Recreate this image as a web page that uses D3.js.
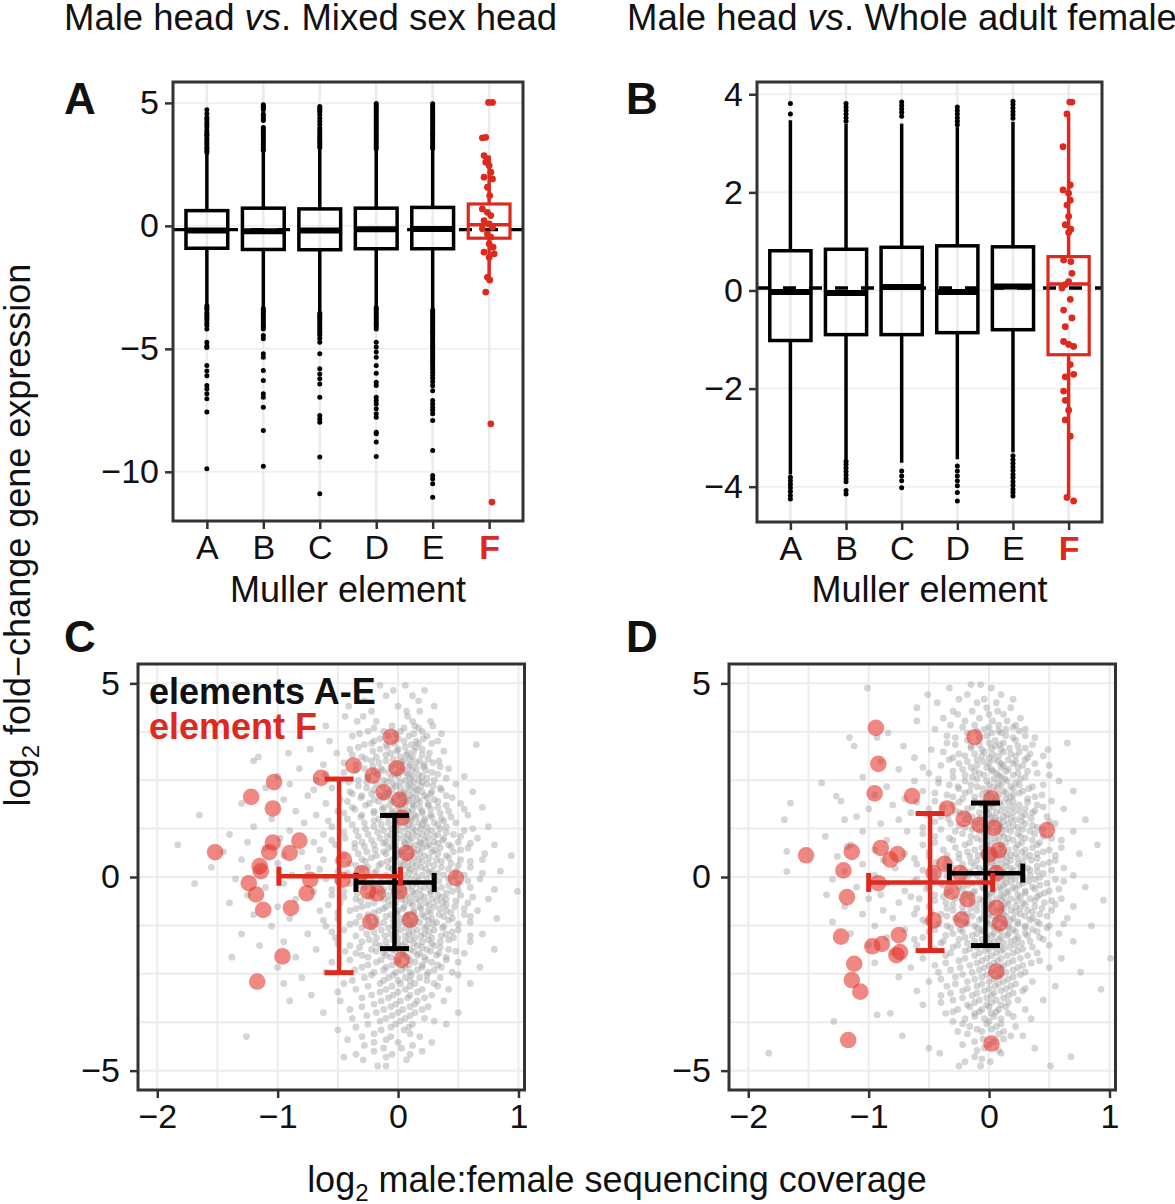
<!DOCTYPE html>
<html><head><meta charset="utf-8">
<script src="https://cdn.jsdelivr.net/npm/d3@7"></script>
<style>
body{margin:0;background:#fff}
svg{display:block}
text{font-family:"Liberation Sans",Arial,Helvetica,sans-serif}
</style>
</head><body>
<svg id="c" width="1175" height="1204"></svg>
<script>
// ---------------- DATA ----------------
const muller = ["A","B","C","D","E","F"];
const ticksA = [5,0,-5,-10];
const ticksB = [4,2,0,-2,-4];
const ticksScX = [-2,-1,0,1];
const ticksScY = [5,0,-5];

// Panel A: male head vs mixed sex head (box stats per element A..F)
const aWlo = [-3.21,-3.31,-3.51,-3.28,-3.38,-2.15];
const aQ1  = [-0.91,-0.96,-0.97,-0.93,-0.93,-0.50];
const aMed = [-0.19,-0.22,-0.19,-0.14,-0.13,0.05];
const aQ3  = [0.62,0.72,0.69,0.72,0.75,0.89];
const aWhi = [2.93,3.06,3.13,3.09,3.13,2.86];
const aRef = -0.15;
const aOut = [
 [2.98,3.05,3.14,3.2,3.31,3.38,3.47,3.55,3.66,3.72,3.81,3.9,4.02,4.11,4.2,4.33,4.41,4.56,4.72,-3.25,-3.33,-3.4,-3.52,-3.6,-3.68,-3.77,-3.85,-3.96,-4.05,-4.19,-4.73,-4.88,-4.95,-5.68,-5.9,-6.09,-6.49,-6.63,-6.83,-7.03,-7.57,-9.88],
 [3.07,3.14,3.22,3.31,3.4,3.49,3.58,3.66,3.75,3.84,3.92,4.0,4.28,4.38,4.48,4.55,4.72,4.79,4.86,4.93,-3.36,-3.44,-3.52,-3.6,-3.69,-3.78,-3.86,-3.95,-4.04,-4.12,-4.19,-4.46,-4.59,-5.2,-5.34,-5.88,-6.29,-6.83,-6.97,-7.37,-8.32,-9.77],
 [3.19,3.27,3.36,3.44,3.53,3.61,3.7,3.79,3.88,3.98,4.12,4.25,4.38,4.52,4.63,4.7,4.78,4.85,-3.55,-3.63,-3.72,-3.8,-3.9,-3.98,-4.07,-4.16,-4.25,-4.35,-4.45,-4.58,-4.73,-5.2,-5.81,-6.02,-6.22,-6.43,-6.97,-7.71,-7.85,-7.98,-9.4,-10.89],
 [3.14,3.22,3.31,3.4,3.48,3.57,3.66,3.74,3.83,3.92,4.0,4.09,4.17,4.26,4.34,4.43,4.51,4.6,4.68,4.76,4.83,4.91,4.98,-3.32,-3.4,-3.49,-3.57,-3.66,-3.74,-3.83,-3.92,-4.0,-4.09,-4.19,-4.73,-4.93,-5.13,-5.34,-5.68,-5.99,-6.36,-6.49,-6.97,-7.1,-7.24,-7.44,-7.64,-7.78,-8.39,-8.45,-8.79,-9.38],
 [3.16,3.24,3.33,3.42,3.5,3.59,3.68,3.76,3.85,3.94,4.02,4.11,4.2,4.29,4.37,4.46,4.55,4.63,4.72,4.8,4.89,4.97,-3.42,-3.5,-3.58,-3.67,-3.75,-3.84,-3.93,-4.02,-4.1,-4.19,-4.28,-4.37,-4.46,-4.55,-4.64,-4.73,-4.82,-4.9,-4.99,-5.08,-5.17,-5.26,-5.35,-5.44,-5.53,-5.62,-5.72,-5.83,-5.95,-6.07,-6.2,-6.34,-6.5,-6.7,-7.1,-7.24,-7.37,-7.5,-7.64,-7.91,-9.13,-10.15,-10.29,-10.49,-11.03]
];
const aFval = [5.02,5.02,3.6,3.58,2.86,2.72,2.59,2.45,2.18,1.98,1.91,1.57,1.23,0.69,0.55,0.42,0.21,0.08,-0.06,-0.12,-0.33,-0.46,-0.73,-0.87,-1.07,-1.14,-1.28,-2.09,-2.2,-2.69,-8.05,-11.23];
const aFjit = [0.06,-0.01,-0.06,-0.12,-0.09,-0.03,-0.06,0,0.03,-0.09,0.06,-0.03,0.01,-0.12,-0.03,0.03,-0.09,0,0.06,-0.12,-0.03,0.03,0,0.07,-0.09,0.09,0,-0.03,0.01,-0.06,0.03,0.05];

// Panel B: male head vs whole adult female
const bWlo = [-3.75,-3.44,-3.51,-3.44,-3.3,-4.22];
const bQ1  = [-1.02,-0.90,-0.90,-0.86,-0.80,-1.31];
const bMed = [-0.03,-0.05,0.07,-0.03,0.08,0.13];
const bQ3  = [0.81,0.84,0.88,0.91,0.89,0.69];
const bWhi = [3.47,3.4,3.4,3.33,3.44,3.6];
const bRef = 0.05;
const bOut = [
 [3.6,3.81,-3.81,-3.88,-3.95,-4.02,-4.1,-4.18,-4.25],
 [3.45,3.52,3.6,3.67,3.74,3.81,-3.48,-3.55,-3.62,-3.69,-3.76,-3.84,-3.9,-4.08,-4.15],
 [3.55,3.63,3.7,3.77,3.84,-3.68,-3.78,-3.88,-4.02],
 [3.38,3.45,3.52,3.6,3.67,3.74,-3.58,-3.68,-3.78,-3.88,-3.98,-4.12,-4.29],
 [3.51,3.58,3.65,3.72,3.79,3.86,-3.37,-3.45,-3.52,-3.6,-3.67,-3.75,-3.82,-3.9,-3.97,-4.05,-4.12,-4.19]
];
const bFval = [3.84,3.84,3.6,2.93,2.15,2.05,1.98,1.84,1.74,1.51,1.34,1.25,1.18,0.62,0.59,0.35,0.18,0.12,0.05,-0.18,-0.4,-0.56,-0.74,-1.04,-1.1,-1.14,-1.51,-1.71,-1.76,-2.05,-2.24,-2.44,-2.64,-2.97,-4.22,-4.29];
const bFjit = [0.06,0.02,-0.03,-0.1,0.03,-0.1,0,0.03,-0.03,0,-0.06,0.04,0,-0.09,0.04,0.06,0,-0.06,-0.12,0.03,-0.09,0.06,-0.06,-0.09,0,0.09,0.03,0.09,-0.06,-0.09,-0.06,0,-0.06,0.03,-0.03,0.09];

// Panel C: gray cloud (elements A-E), rows of [y, [x...]]
const cloudC = [
 [4.95,[-0.15,0.06]],[4.82,[-0.04,0.22]],[4.68,[-0.1,0.12]],[4.55,[0.17,-0.28]],[4.41,[0.0,-0.41,0.3]],
 [4.28,[-0.22,0.18,0.07]],[4.15,[-0.44,-0.29,0.08]],[4.02,[-0.18,-0.34,0.12,0.27]],[3.9,[-0.6,0.14,-0.05,0.29]],
 [3.76,[-0.25,0.02,0.2,-0.12]],[3.64,[0.24,-0.38,-0.08,0.09]],[3.51,[-0.57,-0.2,0.05,0.15,0.33]],[3.42,[0.65,-0.1,-0.28,0.11]],
 [3.3,[-0.73,-0.15,0.0,0.2,-0.4]],[3.2,[-0.91,-0.51,0.08,-0.06,0.26]],[3.1,[-1.16,-0.3,0.12,-0.18,0.02]],
 [3.0,[-1.2,-0.22,0.18,0.05,-0.1,0.34]],[2.9,[-0.62,-0.35,-0.02,0.1,0.22]],[2.8,[-0.82,-0.14,0.04,0.15,-0.28,0.42]],
 [2.7,[-0.45,-0.08,0.07,0.28,-0.2]],[2.6,[-1.0,-0.25,0.0,0.12,0.2,0.55]],[2.5,[-0.68,-0.33,-0.12,0.06,0.17,0.3]],
 [2.4,[-0.9,-0.18,-0.04,0.1,0.24,0.48]],[2.3,[-1.1,-0.55,-0.26,0.02,0.14,0.35]],[2.2,[-0.4,-0.1,0.05,0.2,0.28,0.62]],
 [2.1,[-0.75,-0.3,-0.15,0.0,0.1,0.22,0.4]],[2.0,[-0.95,-0.48,-0.2,-0.06,0.08,0.16,0.3]],[1.9,[-1.3,-0.6,-0.24,0.03,0.12,0.25,0.52]],
 [1.8,[-0.38,-0.12,0.0,0.18,0.33,0.7]],[1.7,[-0.85,-0.5,-0.2,-0.05,0.08,0.2,0.42]],[1.6,[-1.65,-0.68,-0.3,-0.1,0.04,0.14,0.27,0.58]],
 [1.5,[-1.05,-0.42,-0.16,0.0,0.1,0.22,0.36]],[1.4,[-0.78,-0.28,-0.08,0.06,0.17,0.3,0.48]],[1.3,[-1.2,-0.55,-0.2,-0.02,0.12,0.24,0.4,0.75]],
 [1.2,[-0.9,-0.35,-0.12,0.02,0.15,0.28,0.55]],[1.1,[-1.4,-0.62,-0.25,-0.06,0.08,0.2,0.33,0.46]],[1.0,[-0.98,-0.44,-0.15,0.0,0.11,0.25,0.38,0.66]],
 [0.9,[-1.25,-0.7,-0.3,-0.1,0.05,0.18,0.3,0.5]],[0.83,[-1.83,-0.52,-0.2,-0.02,0.14,0.26,0.42,0.8]],[0.75,[-1.1,-0.36,-0.08,0.07,0.2,0.35,0.58]],
 [0.65,[-1.45,-0.8,-0.26,-0.12,0.02,0.13,0.28,0.46]],[0.55,[-0.95,-0.45,-0.18,0.0,0.1,0.22,0.4,0.94]],[0.45,[-1.3,-0.62,-0.3,-0.05,0.06,0.17,0.32,0.52,0.7]],
 [0.35,[-1.0,-0.4,-0.14,0.02,0.12,0.25,0.44]],[0.25,[-1.55,-0.75,-0.25,-0.08,0.08,0.19,0.36,0.6]],[0.15,[-1.15,-0.5,-0.18,0.0,0.14,0.28,0.48,0.85]],
 [0.05,[-0.88,-0.34,-0.1,0.05,0.2,0.38,0.55]],[-0.05,[-1.35,-0.6,-0.22,-0.04,0.1,0.24,0.42,0.68]],[-0.17,[-1.69,-0.95,-0.4,-0.14,0.02,0.16,0.3,0.5]],
 [-0.27,[-1.1,-0.28,-0.06,0.08,0.22,0.36,0.6]],[-0.37,[-0.7,-0.45,-0.18,0.0,0.12,0.27,0.45,0.99]],[-0.47,[-1.25,-0.55,-0.25,-0.08,0.06,0.19,0.33,0.52]],
 [-0.57,[-0.85,-0.35,-0.12,0.03,0.15,0.28,0.4,0.75]],[-0.67,[-1.4,-0.48,-0.2,-0.02,0.1,0.23,0.37,0.58]],[-0.77,[-1.0,-0.3,-0.1,0.05,0.18,0.3,0.47]],
 [-0.87,[-0.65,-0.4,-0.16,0.0,0.13,0.25,0.4,0.66]],[-0.97,[-1.2,-0.25,-0.06,0.08,0.2,0.34,0.55]],[-1.07,[-0.9,-0.5,-0.18,0.02,0.15,0.28,0.45,0.82]],
 [-1.17,[-0.35,-0.12,0.05,0.18,0.32,0.6]],[-1.27,[-1.05,-0.6,-0.22,-0.04,0.1,0.24,0.38]],[-1.37,[-0.45,-0.14,0.02,0.16,0.3,0.5]],
 [-1.47,[-1.3,-0.75,-0.26,-0.06,0.09,0.22,0.4,0.7]],[-1.57,[-0.52,-0.18,0.0,0.14,0.28,0.46]],[-1.67,[-0.95,-0.3,-0.1,0.06,0.2,0.35,0.6]],
 [-1.77,[-1.15,-0.4,-0.15,0.03,0.16,0.3]],[-1.87,[-0.68,-0.22,-0.05,0.1,0.24,0.42,0.8]],[-1.97,[-0.35,-0.12,0.04,0.18,0.34,0.55]],
 [-2.07,[-1.38,-0.85,-0.25,-0.06,0.08,0.22,0.4]],[-2.2,[-0.55,-0.18,0.0,0.14,0.28,0.5]],[-2.33,[-1.0,-0.3,-0.1,0.06,0.2,0.36,0.68]],
 [-2.46,[-0.6,-0.2,-0.02,0.1,0.25,0.45]],[-2.6,[-0.8,-0.28,-0.08,0.06,0.18,0.35]],[-2.75,[-0.95,-0.45,-0.15,0.02,0.14,0.3,0.6]],
 [-2.9,[-0.35,-0.1,0.06,0.2,0.42]],[-3.05,[-0.72,-0.22,-0.04,0.1,0.28]],[-3.2,[-0.9,-0.48,-0.14,0.02,0.16,0.38]],
 [-3.35,[-0.3,-0.06,0.1,0.25]],[-3.5,[-0.62,-0.18,0.0,0.14,0.5]],[-3.65,[-0.38,-0.1,0.06,0.22]],[-3.8,[-0.25,-0.02,0.12,0.4]],
 [-3.95,[-0.5,-0.14,0.05]],[-4.12,[-1.26,-0.3,-0.06,0.18]],[-4.27,[-0.2,0.0,0.28]],[-4.42,[-0.12,0.03]],
 [-4.58,[-0.35,-0.05,0.1]],[-4.72,[-0.29,0.07]],[-4.88,[-0.17,-0.1]]
];
// denser core of panel C cloud
const cloudC2 = [
 [3.85,[-0.2,0.05,0.17]],[3.7,[-0.32,-0.02,0.13,0.36]],[3.57,[-0.15,0.0,0.21]],[3.45,[-0.22,-0.03,0.17,0.28]],
 [3.35,[-0.33,-0.09,0.06,0.15]],[3.25,[-0.21,-0.01,0.13,0.38]],[3.15,[-0.38,-0.1,0.07,0.2]],[3.05,[-0.27,-0.04,0.1,0.25]],
 [2.95,[-0.45,-0.16,0.03,0.15,0.29]],[2.85,[-0.21,-0.06,0.09,0.21,0.35]],[2.75,[-0.35,-0.13,0.01,0.12,0.23]],
 [2.65,[-0.6,-0.17,-0.03,0.08,0.17,0.33]],[2.55,[-0.25,-0.06,0.1,0.24,0.4]],[2.45,[-0.41,-0.26,-0.09,0.02,0.13,0.2]],
 [2.35,[-0.33,-0.13,-0.02,0.08,0.19,0.29]],[2.25,[-0.7,-0.2,-0.05,0.1,0.16,0.36]],[2.15,[-0.38,-0.22,-0.08,0.05,0.15,0.27]],
 [2.05,[-0.31,-0.12,0.03,0.12,0.24,0.45]],[1.95,[-0.42,-0.16,-0.04,0.07,0.18,0.33]],[1.85,[-0.27,-0.07,0.06,0.13,0.25,0.4]],
 [1.75,[-0.36,-0.13,0.03,0.12,0.27,0.55]],[1.65,[-0.45,-0.2,-0.04,0.09,0.2,0.35]],[1.55,[-0.31,-0.08,0.05,0.15,0.28,0.44]],
 [1.45,[-0.58,-0.2,-0.02,0.11,0.22,0.38]],[1.35,[-0.38,-0.14,0.0,0.09,0.2,0.33]],[1.25,[-0.27,-0.06,0.07,0.19,0.35,0.62]],
 [1.15,[-0.45,-0.17,-0.02,0.12,0.24,0.4]],[1.05,[-0.33,-0.09,0.05,0.16,0.3,0.52]],[0.95,[-0.55,-0.22,-0.04,0.09,0.22,0.37]],
 [0.87,[-0.36,-0.12,0.06,0.19,0.33,0.6]],[0.79,[-0.28,-0.05,0.1,0.24,0.44]],[0.7,[-0.65,-0.19,-0.01,0.16,0.3,0.52]],
 [0.6,[-0.33,-0.1,0.05,0.18,0.33,0.72]],[0.5,[-0.22,-0.02,0.13,0.26,0.42]],[0.4,[-0.5,-0.27,-0.09,0.08,0.2,0.36,0.6]],
 [0.3,[-0.35,-0.16,0.04,0.15,0.3,0.5]],[0.2,[-0.65,-0.3,-0.05,0.1,0.23,0.42]],[0.1,[-0.42,-0.2,-0.03,0.09,0.26,0.33,0.7]],
 [0.0,[-0.28,-0.14,0.02,0.15,0.3,0.47]],[-0.1,[-0.5,-0.3,-0.08,0.05,0.17,0.34,0.58]],[-0.22,[-0.33,-0.21,-0.02,0.12,0.26,0.42]],
 [-0.32,[-0.55,-0.12,0.04,0.18,0.31,0.5,0.8]],[-0.42,[-0.34,-0.15,0.01,0.14,0.27,0.4]],[-0.52,[-0.45,-0.22,-0.03,0.1,0.22,0.36,0.62]],
 [-0.62,[-0.31,-0.08,0.06,0.18,0.32,0.48]],[-0.72,[-0.58,-0.25,-0.05,0.12,0.26,0.4]],[-0.82,[-0.35,-0.12,0.04,0.19,0.35,0.55]],
 [-0.92,[-0.5,-0.2,-0.01,0.13,0.27,0.44]],[-1.02,[-0.32,-0.1,0.07,0.22,0.38,0.6]],[-1.12,[-0.62,-0.25,-0.04,0.1,0.25,0.42]],
 [-1.22,[-0.4,-0.17,0.0,0.13,0.29,0.5]],[-1.32,[-0.3,-0.08,0.07,0.22,0.37]],[-1.42,[-0.55,-0.2,-0.02,0.12,0.26,0.45]],
 [-1.52,[-0.35,-0.11,0.06,0.19,0.36,0.6]],[-1.62,[-0.24,-0.04,0.1,0.25,0.42]],[-1.72,[-0.5,-0.19,0.0,0.13,0.28]],
 [-1.82,[-0.32,-0.09,0.07,0.2,0.35]],[-1.92,[-0.44,-0.18,-0.02,0.13,0.27,0.48]],[-2.02,[-0.3,-0.1,0.04,0.16,0.32]],
 [-2.14,[-0.4,-0.14,0.0,0.1,0.23,0.4]],[-2.27,[-0.25,-0.05,0.09,0.2,0.33]],[-2.4,[-0.36,-0.12,0.03,0.16,0.3]],
 [-2.53,[-0.22,-0.04,0.11,0.24,0.5]],[-2.67,[-0.38,-0.12,0.0,0.1,0.24]],[-2.82,[-0.25,-0.05,0.1,0.33]],
 [-2.97,[-0.5,-0.15,0.0,0.16]],[-3.12,[-0.3,-0.08,0.08,0.22]],[-3.28,[-0.2,-0.02,0.14]],[-3.42,[-0.4,-0.12,0.04,0.2]],
 [-3.58,[-0.26,-0.05,0.1]],[-3.72,[-0.15,0.02,0.3]],[-3.88,[-0.35,-0.06,0.09]],[-4.05,[-0.2,0.1]],
 [-4.2,[-0.42,-0.1]],[-4.35,[-0.28,0.12]],[-4.5,[-0.2,0.2]],[-4.65,[-0.1,-0.45]]
];
const redCx = [-0.06,-0.37,-0.01,-0.21,-0.64,-1.03,-0.12,-1.22,0.01,-1.04,0.03,-1.04,-0.82,-1.52,-1.07,-0.9,0.07,-1.15,-1.14,-0.45,-0.3,-0.46,-1.24,0.48,-0.73,-0.76,-1.18,-0.25,-0.17,0.01,-0.89,-1.12,0.1,-0.23,0.03,-0.96,-1.17];
const redCy = [3.62,2.88,2.81,2.62,2.56,2.45,2.19,2.07,2.0,1.77,1.53,0.89,0.94,0.64,0.64,0.62,0.62,0.28,0.15,0.45,0.1,-0.07,-0.16,-0.03,-0.07,-0.42,-0.45,-0.37,-0.42,-0.37,-0.8,-0.85,-1.1,-1.16,-2.14,-2.05,-2.7];
// error bars: [meanX, meanY, xLo, xHi, yLo, yHi, yOfHorizontalBar]
const errCblack = [-0.03,-0.13,-0.35,0.30,-1.85,1.59,-0.14];
const errCred   = [-0.49,0.03,-0.99,0.02,-2.47,2.53,0.02];

// Panel D
const cloudD = [
 [4.97,[-0.15,-0.07]],[4.88,[-1.01,-0.33,0.02]],[4.71,[-0.51,-0.18,0.1]],[4.59,[-0.04,-0.25,0.2]],[4.5,[-0.43,-0.1,0.06]],
 [4.37,[-0.6,0.18,-0.02]],[4.28,[0.07,-0.3,-0.14]],[4.2,[-0.26,0.0,0.12]],[4.1,[0.26,-0.08,-0.38]],[4.03,[0.15,0.03,-0.2,-0.6]],
 [3.92,[-0.12,0.08,0.22,-0.32]],[3.82,[-0.45,-0.04,0.14,0.3]],[3.72,[-0.84,-0.18,0.02,0.1]],[3.6,[-1.16,-0.93,-0.28,-0.08,0.2,0.38]],
 [3.46,[-0.35,0.0,0.12,0.65]],[3.38,[-1.12,-0.71,-0.15,0.05,0.24]],[3.29,[-0.48,-0.06,0.1,0.49]],[3.18,[-0.25,-0.12,0.03,0.18,0.34]],
 [3.08,[-0.62,-0.3,0.0,0.32]],[2.98,[-0.9,-0.18,-0.05,0.08,0.22]],[2.88,[-0.4,-0.1,0.12,0.28,0.5]],[2.78,[-0.75,-0.22,0.02,0.16]],
 [2.68,[-0.5,-0.08,0.06,0.24,0.4]],[2.58,[-1.05,-0.3,-0.14,0.1,0.3]],[2.48,[-0.62,-0.2,-0.02,0.15,0.58]],[2.43,[-1.39,-0.42,0.08,0.22]],
 [2.33,[-0.85,-0.26,-0.1,0.04,0.18,0.36]],[2.22,[-0.55,-0.16,0.0,0.12,0.28,0.7]],[2.12,[-0.95,-0.35,-0.06,0.08,0.2,0.44]],[2.09,[-1.27]],
 [2.02,[-0.7,-0.22,-0.02,0.14,0.32]],[1.96,[-1.23,-0.45,-0.12,0.05,0.2,0.52]],[1.91,[-1.65]],[1.86,[-0.8,-0.3,-0.06,0.1,0.25,0.4]],
 [1.76,[-1.0,-0.5,-0.18,0.0,0.15,0.3,0.62]],[1.66,[-0.65,-0.24,-0.08,0.06,0.2,0.36]],[1.56,[-1.1,-0.4,-0.14,0.02,0.12,0.27,0.48]],
 [1.48,[-1.7,-1.2,-0.75,-0.2,0.08,0.22,0.8]],[1.38,[-0.9,-0.32,-0.1,0.04,0.16,0.3,0.55]],[1.28,[-0.55,-0.2,-0.02,0.1,0.24,0.4]],
 [1.18,[-1.05,-0.68,-0.28,-0.08,0.06,0.18,0.34,0.7]],[1.05,[-1.36,-0.45,-0.15,0.0,0.12,0.26,0.45]],[0.95,[-0.85,-0.3,-0.06,0.08,0.2,0.36,0.6]],
 [0.83,[-1.15,-0.55,-0.2,-0.02,0.1,0.24,0.4,0.9]],[0.79,[-1.18]],[0.7,[-0.95,-0.38,-0.12,0.04,0.16,0.3,0.5]],[0.66,[-1.68]],
 [0.6,[-0.7,-0.25,-0.05,0.08,0.22,0.4,0.75]],[0.53,[-1.26,-0.5,-0.16,0.02,0.14,0.3]],[0.43,[-0.88,-0.35,-0.1,0.06,0.18,0.35,0.55]],
 [0.33,[-1.05,-0.6,-0.22,-0.02,0.1,0.24,0.45]],[0.23,[-0.78,-0.3,-0.08,0.06,0.18,0.32,0.62]],[0.14,[-1.68,-1.2,-0.45,-0.16,0.0,0.12,0.26,0.4]],
 [0.04,[-0.95,-0.35,-0.1,0.05,0.18,0.34,0.7]],[-0.06,[-1.3,-0.6,-0.22,-0.04,0.1,0.22,0.38,0.55]],[-0.16,[-0.85,-0.4,-0.14,0.02,0.14,0.28,0.48]],
 [-0.26,[-1.1,-0.5,-0.25,-0.06,0.08,0.2,0.36,0.8]],[-0.36,[-0.7,-0.32,-0.12,0.04,0.16,0.3,0.5]],[-0.46,[-1.35,-0.9,-0.45,-0.2,-0.02,0.1,0.24,0.42]],
 [-0.56,[-1.0,-0.58,-0.28,-0.08,0.06,0.18,0.34,0.6]],[-0.6,[0.95]],[-0.66,[-0.75,-0.36,-0.14,0.02,0.14,0.28,0.46]],
 [-0.76,[-1.2,-0.5,-0.22,-0.04,0.1,0.22,0.38,0.7]],[-0.86,[-0.88,-0.3,-0.1,0.06,0.18,0.32,0.52]],[-0.96,[-1.05,-0.62,-0.4,-0.18,0.0,0.12,0.26,0.42]],
 [-1.06,[-0.8,-0.28,-0.06,0.08,0.2,0.36,0.65]],[-1.16,[-1.3,-0.52,-0.2,-0.02,0.12,0.24,0.4]],[-1.26,[-0.95,-0.35,-0.12,0.04,0.16,0.3,0.5,0.85]],
 [-1.36,[-0.7,-0.45,-0.24,-0.06,0.08,0.2,0.36]],[-1.46,[-1.15,-0.3,-0.1,0.04,0.16,0.3,0.58]],[-1.56,[-0.85,-0.55,-0.2,-0.02,0.1,0.24,0.42]],
 [-1.66,[-0.38,-0.12,0.04,0.18,0.34,0.7]],[-1.76,[-1.0,-0.6,-0.26,-0.06,0.08,0.22,0.5]],[-1.86,[-0.45,-0.16,0.0,0.12,0.28]],
 [-1.96,[-0.8,-0.32,-0.08,0.06,0.2,0.4]],[-2.1,[-0.55,-0.2,-0.02,0.1,0.26,0.6,1.01]],[-2.22,[-0.95,-0.36,-0.1,0.04,0.16,0.35]],
 [-2.34,[-0.65,-0.24,-0.04,0.1,0.24,0.5]],[-2.46,[-0.42,-0.14,0.02,0.14,0.3,0.76]],[-2.58,[-0.75,-0.28,-0.06,0.08,0.2]],
 [-2.7,[-0.5,-0.18,0.0,0.12,0.36]],[-2.82,[-0.35,-0.1,0.05,0.18,0.55]],[-2.9,[0.93]],[-2.94,[-0.6,-0.22,-0.04,0.1,0.28]],
 [-3.06,[-0.4,-0.14,0.02,0.16]],[-3.18,[-0.3,-0.08,0.06,0.24,0.45]],[-3.3,[-0.55,-0.18,-0.02,0.1]],[-3.42,[-0.26,-0.06,0.08,0.3]],
 [-3.52,[-0.82,-0.36,-0.12,0.02,0.16]],[-3.56,[-0.93]],[-3.66,[-0.2,-0.04,0.1,0.35]],[-3.73,[-1.29,-0.3,0.0]],
 [-3.86,[-0.16,0.06,0.22]],[-3.99,[-0.26,-0.06,0.12]],[-4.1,[-0.72,0.28,0.18]],[-4.25,[-0.12,0.04]],[-4.42,[-0.5,0.38,-0.04]],
 [-4.55,[-1.83,-0.41,0.1]],[-4.64,[-0.12,0.68]],[-4.77,[0.01,-0.2]],[-4.88,[-0.25,-0.07,0.51]]
];
const cloudD2 = [
 [3.87,[-0.22,0.0,0.2]],[3.77,[-0.1,0.08,0.25]],[3.65,[-0.35,-0.02,0.14,0.3]],[3.53,[-0.18,0.05,0.22]],
 [3.42,[-0.28,-0.08,0.09,0.36]],[3.33,[-0.15,0.02,0.17,0.3]],[3.23,[-0.38,-0.04,0.12,0.25]],[3.13,[-0.2,-0.06,0.08,0.22,0.45]],
 [3.03,[-0.33,-0.1,0.04,0.16,0.3]],[2.93,[-0.25,0.0,0.1,0.2,0.38]],[2.83,[-0.55,-0.15,-0.02,0.1,0.24]],[2.73,[-0.3,-0.12,0.03,0.14,0.32]],
 [2.63,[-0.2,-0.04,0.08,0.2,0.5]],[2.53,[-0.42,-0.1,0.04,0.13,0.26]],[2.38,[-0.33,-0.15,0.0,0.1,0.25,0.45]],[2.28,[-0.25,-0.05,0.07,0.2,0.33]],
 [2.17,[-0.45,-0.2,-0.02,0.14,0.25]],[2.07,[-0.3,-0.12,0.03,0.18,0.38]],[1.93,[-0.6,-0.25,-0.06,0.09,0.16,0.32]],[1.81,[-0.38,-0.14,0.04,0.2,0.45]],
 [1.71,[-0.28,-0.03,0.1,0.25,0.38]],[1.61,[-0.52,-0.18,0.0,0.15,0.3]],[1.51,[-0.34,-0.07,0.05,0.18,0.35]],[1.43,[-0.45,-0.15,0.02,0.12,0.27,0.5]],
 [1.33,[-0.25,-0.04,0.09,0.2,0.36]],[1.23,[-0.4,-0.14,0.0,0.14,0.28,0.45]],[1.12,[-0.55,-0.22,-0.04,0.1,0.24,0.38]],[1.0,[-0.33,-0.1,0.05,0.16,0.3,0.52]],
 [0.89,[-0.45,-0.16,0.02,0.14,0.27,0.42]],[0.76,[-0.28,-0.06,0.1,0.22,0.36,0.6]],[0.65,[-0.5,-0.18,0.0,0.12,0.27,0.45]],[0.56,[-0.35,-0.09,0.06,0.18,0.34,0.55]],
 [0.48,[-0.62,-0.25,-0.03,0.11,0.24,0.4]],[0.38,[-0.44,-0.15,0.02,0.15,0.28,0.5]],[0.28,[-0.36,-0.12,0.04,0.14,0.26,0.4]],[0.18,[-0.55,-0.22,-0.04,0.08,0.2,0.34,0.52]],
 [0.09,[-0.3,-0.15,0.0,0.12,0.26,0.45]],[-0.01,[-0.45,-0.18,-0.02,0.14,0.28,0.42]],[-0.11,[-0.62,-0.3,-0.08,0.06,0.18,0.33,0.62]],[-0.21,[-0.38,-0.18,0.0,0.12,0.25,0.42]],
 [-0.31,[-0.52,-0.22,-0.04,0.1,0.22,0.38,0.58]],[-0.41,[-0.35,-0.13,0.02,0.15,0.3,0.46]],[-0.51,[-0.65,-0.38,-0.16,0.0,0.12,0.26,0.4]],[-0.61,[-0.45,-0.22,-0.05,0.1,0.23,0.38,0.52]],
 [-0.71,[-0.3,-0.1,0.02,0.16,0.3,0.55]],[-0.81,[-0.6,-0.35,-0.15,0.0,0.12,0.26,0.44]],[-0.91,[-0.48,-0.22,-0.04,0.1,0.22,0.36]],[-1.01,[-0.35,-0.14,0.02,0.14,0.3,0.48]],
 [-1.11,[-0.55,-0.25,-0.08,0.06,0.18,0.34]],[-1.21,[-0.42,-0.18,0.0,0.12,0.24,0.42,0.62]],[-1.31,[-0.32,-0.1,0.04,0.16,0.3,0.48]],[-1.41,[-0.5,-0.22,-0.05,0.1,0.22,0.4]],
 [-1.51,[-0.36,-0.14,0.02,0.15,0.32]],[-1.61,[-0.62,-0.25,-0.06,0.08,0.22,0.45]],[-1.71,[-0.4,-0.18,0.0,0.12,0.27]],[-1.81,[-0.3,-0.1,0.05,0.17,0.36]],
 [-1.91,[-0.55,-0.2,-0.03,0.1,0.24]],[-2.03,[-0.36,-0.12,0.02,0.15,0.32]],[-2.16,[-0.25,-0.06,0.07,0.2,0.42]],[-2.28,[-0.45,-0.16,0.0,0.12,0.28]],
 [-2.4,[-0.32,-0.08,0.06,0.2]],[-2.52,[-0.22,-0.02,0.1,0.26]],[-2.64,[-0.4,-0.12,0.04,0.16]],[-2.76,[-0.28,-0.06,0.08,0.22]],
 [-2.88,[-0.18,0.0,0.14,0.3]],[-3.0,[-0.32,-0.1,0.04,0.2]],[-3.12,[-0.22,-0.02,0.12]],[-3.24,[-0.4,-0.12,0.02,0.16]],
 [-3.36,[-0.16,0.0,0.14]],[-3.48,[-0.3,-0.08,0.06]],[-3.6,[-0.12,0.04,0.2]],[-3.79,[-0.22,-0.02,0.1]],
 [-3.93,[-0.1,0.02]],[-4.05,[-0.18,0.08]],[-4.18,[-0.05,0.12]],[-4.33,[-0.22,0.0]],[-4.48,[-0.1,0.08]],[-4.7,[-0.06]]
];
const redDx = [-0.94,-0.92,-0.12,-0.95,-0.64,-0.35,0.02,-0.21,-0.08,0.04,0.48,0.08,0.0,-1.52,-1.14,-0.9,-0.76,-0.82,-1.21,-0.92,-0.37,-0.46,-0.24,0.06,-1.18,-0.31,-0.18,0.06,-0.23,-0.46,0.09,-0.75,-1.23,-0.89,-0.97,-0.74,-0.77,-1.12,-1.14,-1.07,0.06,-1.17,0.02];
const redDy = [3.85,2.92,3.61,2.16,2.09,1.77,2.03,1.5,1.35,1.27,1.21,0.69,0.58,0.56,0.65,0.75,0.59,0.45,0.17,-0.16,0.34,0.1,0.1,0.1,-0.52,-0.38,-0.57,-0.8,-1.1,-1.12,-1.19,-1.5,-1.54,-1.73,-1.79,-1.94,-2.02,-2.24,-2.66,-2.96,-2.44,-4.21,-4.3];
const errDblack = [-0.03,0.07,-0.33,0.28,-1.77,1.91,0.10];
const errDred   = [-0.49,-0.13,-1.0,0.03,-1.9,1.64,-0.14];

// ---------------- DRAWING ----------------
const RED = "#dd2a1f";
const svg = d3.select("#c");
const minus = d => d < 0 ? "\u2212" + Math.abs(d) : String(d);

function frame(x0,y0,x1,y1){
  svg.append("rect").attr("x",x0).attr("y",y0).attr("width",x1-x0).attr("height",y1-y0)
    .attr("fill","none").attr("stroke","#333").attr("stroke-width",3);
}
function styleAxis(g){
  g.select(".domain").remove();
  g.selectAll(".tick line").attr("stroke","#333").attr("stroke-width",2.5);
  g.selectAll(".tick text").attr("font-size",34).attr("fill","#111")
    .style("font-family","'Liberation Sans',Arial,sans-serif");
}

function boxPanel(o){
  const x = d3.scalePoint().domain(muller).range([o.x0,o.x1]).padding(0.6);
  const y = d3.scaleLinear().domain(o.ydom).range([o.y1,o.y0]);
  const g = svg.append("g");
  const bw = x.step()*0.74;
  g.selectAll(null).data(o.ticks).join("line")
    .attr("x1",o.x0).attr("x2",o.x1).attr("y1",d=>y(d)).attr("y2",d=>y(d))
    .attr("stroke","#f0f0f0").attr("stroke-width",2);
  g.selectAll(null).data(muller).join("line")
    .attr("x1",d=>x(d)).attr("x2",d=>x(d)).attr("y1",o.y0).attr("y2",o.y1)
    .attr("stroke","#ebebef").attr("stroke-width",2.5);
  muller.slice(0,5).forEach((m,i)=>{
    const cx = x(m);
    g.append("line").attr("x1",cx).attr("x2",cx).attr("y1",y(o.whi[i])).attr("y2",y(o.q3[i]))
      .attr("stroke","#000").attr("stroke-width",3.5);
    g.append("line").attr("x1",cx).attr("x2",cx).attr("y1",y(o.q1[i])).attr("y2",y(o.wlo[i]))
      .attr("stroke","#000").attr("stroke-width",3.5);
    g.append("rect").attr("x",cx-bw/2).attr("y",y(o.q3[i])).attr("width",bw)
      .attr("height",y(o.q1[i])-y(o.q3[i])).attr("fill","none").attr("stroke","#000").attr("stroke-width",3.5);
    g.append("line").attr("x1",cx-bw/2).attr("x2",cx+bw/2).attr("y1",y(o.med[i])).attr("y2",y(o.med[i]))
      .attr("stroke","#000").attr("stroke-width",6);
    g.selectAll(null).data(o.out[i]).join("circle")
      .attr("cx",cx).attr("cy",d=>y(d)).attr("r",2.5).attr("fill","#000");
  });
  g.append("line").attr("x1",o.x0).attr("x2",o.x1).attr("y1",y(o.ref)).attr("y2",y(o.ref))
    .attr("stroke","#000").attr("stroke-width",3.3).attr("stroke-dasharray","13 13");
  const i=5, cx=x("F");
  g.append("line").attr("x1",cx).attr("x2",cx).attr("y1",y(o.whi[i])).attr("y2",y(o.q3[i]))
    .attr("stroke",RED).attr("stroke-width",3.5);
  g.append("line").attr("x1",cx).attr("x2",cx).attr("y1",y(o.q1[i])).attr("y2",y(o.wlo[i]))
    .attr("stroke",RED).attr("stroke-width",3.5);
  g.append("rect").attr("x",cx-bw/2).attr("y",y(o.q3[i])).attr("width",bw)
    .attr("height",y(o.q1[i])-y(o.q3[i])).attr("fill","none").attr("stroke",RED).attr("stroke-width",3.2);
  g.append("line").attr("x1",cx-bw/2).attr("x2",cx+bw/2).attr("y1",y(o.med[i])).attr("y2",y(o.med[i]))
    .attr("stroke",RED).attr("stroke-width",3.5);
  g.selectAll(null).data(o.fval).join("circle")
    .attr("cx",(d,k)=>cx + o.fjit[k]*x.step()).attr("cy",d=>y(d)).attr("r",3.4).attr("fill",RED);
  frame(o.x0,o.y0,o.x1,o.y1);
  const ay = svg.append("g").attr("transform",`translate(${o.x0},0)`)
    .call(d3.axisLeft(y).tickValues(o.ticks).tickSize(8).tickPadding(6).tickFormat(minus));
  styleAxis(ay);
  const ax = svg.append("g").attr("transform",`translate(0,${o.y1})`)
    .call(d3.axisBottom(x).tickSize(8).tickPadding(6));
  styleAxis(ax);
  ax.selectAll(".tick text").filter(d=>d==="F").attr("fill",RED).attr("font-weight","bold");
  svg.append("text").attr("x",(o.x0+o.x1)/2).attr("y",602).attr("text-anchor","middle")
    .attr("font-size",36).attr("fill","#111").text("Muller element");
}

function scatterPanel(o){
  const x = d3.scaleLinear().domain([-2.16,1.05]).range([o.x0,o.x1]);
  const y = d3.scaleLinear().domain([-5.5,5.5]).range([o.y1,o.y0]);
  const g = svg.append("g");
  const gx = [-2,-1.5,-1,-0.5,0,0.5,1];
  const gy = [-5,-3.75,-2.5,-1.25,0,1.25,2.5,3.75,5];
  g.selectAll(null).data(gy).join("line").attr("x1",o.x0).attr("x2",o.x1)
    .attr("y1",d=>y(d)).attr("y2",d=>y(d)).attr("stroke","#ececf0").attr("stroke-width",2);
  g.selectAll(null).data(gx).join("line").attr("y1",o.y0).attr("y2",o.y1)
    .attr("x1",d=>x(d)).attr("x2",d=>x(d)).attr("stroke","#ececf0").attr("stroke-width",2);
  const pts = o.cloud.concat(o.cloud2).flatMap(r => r[1].map(v => [v, r[0]]));
  g.selectAll(null).data(pts).join("circle").attr("cx",d=>x(d[0])).attr("cy",d=>y(d[1]))
    .attr("r",3.4).attr("fill","#9a9a9a").attr("fill-opacity",0.42);
  g.selectAll(null).data(o.rx).join("circle").attr("cx",d=>x(d)).attr("cy",(d,k)=>y(o.ry[k]))
    .attr("r",8.3).attr("fill","#e5392e").attr("fill-opacity",0.6);
  function err(e,col){
    const [mx,my,xl,xh,yl,yh,hy] = e;
    const cw=14.5, ch=9.5, lw=4.5;
    g.append("line").attr("x1",x(mx)).attr("x2",x(mx)).attr("y1",y(yl)).attr("y2",y(yh)).attr("stroke",col).attr("stroke-width",lw);
    [yl,yh].forEach(v=>g.append("line").attr("x1",x(mx)-cw).attr("x2",x(mx)+cw).attr("y1",y(v)).attr("y2",y(v)).attr("stroke",col).attr("stroke-width",5));
    g.append("line").attr("x1",x(xl)).attr("x2",x(xh)).attr("y1",y(hy)).attr("y2",y(hy)).attr("stroke",col).attr("stroke-width",lw);
    [xl,xh].forEach(v=>g.append("line").attr("x1",x(v)).attr("x2",x(v)).attr("y1",y(hy)-ch).attr("y2",y(hy)+ch).attr("stroke",col).attr("stroke-width",5));
  }
  err(o.eb,"#000");
  err(o.er,RED);
  frame(o.x0,o.y0,o.x1,o.y1);
  const ay = svg.append("g").attr("transform",`translate(${o.x0},0)`)
    .call(d3.axisLeft(y).tickValues(ticksScY).tickSize(8).tickPadding(10).tickFormat(minus));
  styleAxis(ay);
  const ax = svg.append("g").attr("transform",`translate(0,${o.y1})`)
    .call(d3.axisBottom(x).tickValues(ticksScX).tickSize(8).tickPadding(6).tickFormat(minus));
  styleAxis(ax);
}

boxPanel({x0:173,x1:523,y0:82,y1:521,ydom:[-12.0,5.85],ticks:ticksA,
  wlo:aWlo,q1:aQ1,med:aMed,q3:aQ3,whi:aWhi,out:aOut,ref:aRef,fval:aFval,fjit:aFjit});
boxPanel({x0:757,x1:1102,y0:82,y1:522,ydom:[-4.72,4.25],ticks:ticksB,
  wlo:bWlo,q1:bQ1,med:bMed,q3:bQ3,whi:bWhi,out:bOut,ref:bRef,fval:bFval,fjit:bFjit});
scatterPanel({x0:138,x1:524.5,y0:664,y1:1090,cloud:cloudC,cloud2:cloudC2,rx:redCx,ry:redCy,eb:errCblack,er:errCred});
scatterPanel({x0:729,x1:1115.5,y0:664,y1:1090,cloud:cloudD,cloud2:cloudD2,rx:redDx,ry:redDy,eb:errDblack,er:errDred});

svg.append("text").attr("x",149).attr("y",704).attr("font-size",36).attr("font-weight","bold").attr("fill","#111").text("elements A-E");
svg.append("text").attr("x",149).attr("y",739).attr("font-size",36).attr("font-weight","bold").attr("fill",RED).text("element F");

function title(xp, rest){
  const t = svg.append("text").attr("x",xp).attr("y",30).attr("font-size",36.5).attr("fill","#111");
  t.append("tspan").text("Male head ");
  t.append("tspan").attr("font-style","italic").text("vs");
  t.append("tspan").text(". " + rest);
}
title(64,"Mixed sex head");
title(627,"Whole adult female");

[["A",64,114],["B",626,114],["C",64,652],["D",626,652]].forEach(([l,xx,yy])=>
  svg.append("text").attr("x",xx).attr("y",yy).attr("font-size",44).attr("font-weight","bold").attr("fill","#111").text(l));

const yt = svg.append("text").attr("transform","translate(30,535) rotate(-90)").attr("text-anchor","middle")
  .attr("font-size",36).attr("fill","#111");
yt.append("tspan").text("log");
yt.append("tspan").attr("font-size",24).attr("dy",9).text("2");
yt.append("tspan").attr("dy",-9).text(" fold\u2212change gene expression");

const xt = svg.append("text").attr("x",617).attr("y",1192).attr("text-anchor","middle")
  .attr("font-size",36).attr("fill","#111");
xt.append("tspan").text("log");
xt.append("tspan").attr("font-size",24).attr("dy",9).text("2");
xt.append("tspan").attr("dy",-9).text(" male:female sequencing coverage");
</script>
</body></html>
